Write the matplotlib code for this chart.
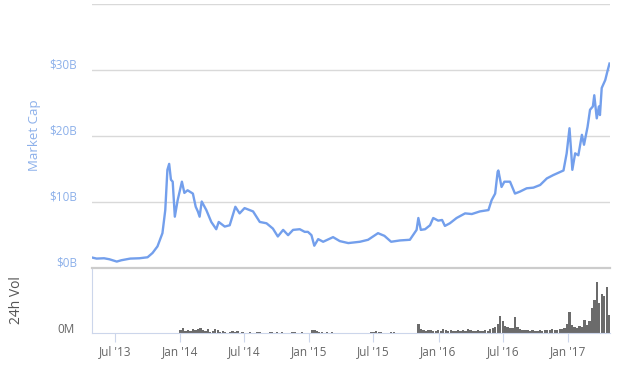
import matplotlib
matplotlib.use("Agg")
import matplotlib.pyplot as plt
import matplotlib.transforms as mtrans
import pandas as pd

# ---------------- data ----------------
mcap_dates = [
    "2013-04-28", "2013-05-10", "2013-05-31", "2013-06-15", "2013-07-06", "2013-07-19",
    "2013-08-13", "2013-09-08", "2013-10-01", "2013-10-15", "2013-10-29", "2013-11-12",
    "2013-11-20", "2013-11-26", "2013-12-01", "2013-12-06", "2013-12-11", "2013-12-17",
    "2013-12-25", "2014-01-06", "2014-01-13", "2014-01-22", "2014-02-06", "2014-02-14",
    "2014-02-20", "2014-02-25", "2014-03-03", "2014-03-16", "2014-03-30", "2014-04-13",
    "2014-04-20", "2014-05-07", "2014-05-21", "2014-06-06", "2014-06-18", "2014-07-02",
    "2014-07-26", "2014-08-14", "2014-09-02", "2014-09-20", "2014-10-04", "2014-10-19",
    "2014-11-02", "2014-11-16", "2014-12-05", "2014-12-19", "2014-12-28", "2015-01-07",
    "2015-01-15", "2015-01-26", "2015-02-09", "2015-03-09", "2015-03-28", "2015-04-21",
    "2015-05-24", "2015-06-16", "2015-07-14", "2015-08-01", "2015-08-20", "2015-09-14",
    "2015-10-12", "2015-10-31", "2015-11-05", "2015-11-12", "2015-11-24", "2015-12-08",
    "2015-12-17", "2015-12-31", "2016-01-11", "2016-01-19", "2016-02-02", "2016-02-21",
    "2016-03-16", "2016-04-04", "2016-04-27", "2016-05-21", "2016-05-30", "2016-06-09",
    "2016-06-16", "2016-06-18", "2016-06-27", "2016-07-05", "2016-07-21", "2016-08-04",
    "2016-08-18", "2016-09-06", "2016-09-25", "2016-10-14", "2016-11-02", "2016-11-20",
    "2016-12-19", "2016-12-28", "2017-01-05", "2017-01-10", "2017-01-13", "2017-01-21",
    "2017-01-30", "2017-02-09", "2017-02-15", "2017-02-25", "2017-03-04", "2017-03-12",
    "2017-03-16", "2017-03-23", "2017-03-29", "2017-04-01", "2017-04-06", "2017-04-16",
    "2017-04-22", "2017-04-28",
]
mcap_billions = [
    1.5, 1.35, 1.4, 1.25, 0.9, 1.1,
    1.35, 1.4, 1.55, 2.2, 3.2, 5.2,
    8.7, 14.8, 15.7, 13.3, 13.0, 7.7,
    10.2, 13.0, 11.3, 11.7, 11.2, 9.2,
    8.5, 7.7, 10.0, 8.7, 6.9, 5.8,
    6.9, 6.2, 6.4, 9.2, 8.2, 9.0,
    8.5, 6.9, 6.7, 5.9, 4.7, 5.7,
    4.9, 5.7, 5.8, 5.4, 5.4, 4.9,
    3.3, 4.3, 3.9, 4.6, 4.0, 3.7,
    3.9, 4.2, 5.2, 4.8, 3.9, 4.1,
    4.2, 5.7, 7.5, 5.7, 5.8, 6.4,
    7.5, 7.1, 7.2, 6.3, 6.7, 7.5,
    8.2, 8.1, 8.5, 8.7, 10.2, 11.2,
    14.5, 14.7, 12.2, 13.0, 13.0, 11.2,
    11.5, 12.0, 12.1, 12.5, 13.5, 14.0,
    14.7, 17.3, 21.1, 17.3, 14.8, 17.3,
    17.0, 20.1, 18.6, 21.3, 23.9, 24.4,
    26.1, 22.6, 24.4, 23.1, 27.2, 28.4,
    29.7, 30.9,
]

# weekly 24h volume (millions), weeks starting 2013-12-30
vol_start = "2013-12-30"
vol_millions = [
    # 2014
    120, 200, 80, 120, 80,
    160, 120, 160, 200,
    120, 80, 160, 40, 80,
    160, 120, 40, 80,
    40, 20, 40, 80,
    40, 80, 20, 40, 20,
    20, 40, 20, 20,
    40, 40, 20, 20,
    20, 40, 40, 20, 60,
    20, 40, 20, 20,
    20, 40, 60, 20,
    20, 40, 20, 20, 20,
    # 2015
    120, 120, 80, 40,
    40, 20, 40, 20,
    40, 0, 20, 0, 0,
    0, 20, 0, 0,
    0, 0, 0, 20,
    0, 0, 20, 40, 40,
    80, 40, 40, 20,
    20, 0, 40, 40, 0,
    0, 0, 0, 0,
    0, 0, 0, 0,
    360, 160, 120, 80, 120,
    120, 80, 80, 120,
    # 2016
    80, 160, 120, 80,
    120, 80, 80, 120, 80,
    120, 80, 160, 120,
    80, 80, 120, 80,
    80, 120, 80, 160, 200,
    240, 360, 680, 480,
    280, 240, 200, 200,
    640, 240, 160, 120, 120,
    120, 80, 120, 80,
    80, 120, 80, 120, 120,
    120, 160, 120, 120,
    160, 160, 200, 360,
    # 2017
    840, 320, 240, 200, 280,
    240, 520, 320, 480,
    1000, 1320, 2040, 1200,
    1560, 1480, 1840, 720,
]

tick_dates = ["2013-07-01", "2014-01-01", "2014-07-01", "2015-01-01",
              "2015-07-01", "2016-01-01", "2016-07-01", "2017-01-01"]
tick_labels = ["Jul '13", "Jan '14", "Jul '14", "Jan '15",
               "Jul '15", "Jan '16", "Jul '16", "Jan '17"]
mcap_ticks = [0, 10, 20, 30, 40]
mcap_tick_labels = ["$0B", "$10B", "$20B", "$30B", ""]

# ---------------- styling ----------------
LINE = "#739fec"
LABEL_BLUE = "#8cb0ea"
GRID = "#d9d9d9"
AXIS = "#ccd6eb"
GRAY_TXT = "#666666"
BAR = "#6b6b6b"

plt.rcParams["font.family"] = ["Open Sans", "DejaVu Sans"]

W, H = 618, 367
PT = 72 / 100  # points per pixel at dpi 100
fig = plt.figure(figsize=(W / 100, H / 100), dpi=100)
ax = fig.add_axes([92 / W, 1 - 267.5 / H, (609.5 - 92) / W, (267.5 - 3.5) / H])
axv = fig.add_axes([92 / W, 1 - 333.3 / H, (609.5 - 92) / W, (333.3 - 267.5) / H], sharex=ax)

md = pd.to_datetime(mcap_dates)
vd = pd.date_range(vol_start, periods=len(vol_millions), freq="7D")

xmin, xmax = pd.Timestamp("2013-04-27"), pd.Timestamp("2017-04-28")

# market cap panel
ax.plot(md, mcap_billions, color=LINE, lw=1.7, solid_joinstyle="round", zorder=3)
ax.set_ylim(0, 40)
ax.set_xlim(xmin, xmax)
ax.set_yticks(mcap_ticks)
ax.set_yticklabels(mcap_tick_labels)
ax.grid(axis="y", color=GRID, lw=1)
ax.set_axisbelow(True)
for s in ax.spines.values():
    s.set_visible(False)
ax.tick_params(axis="y", length=0, labelcolor=LABEL_BLUE, labelsize=8.5, pad=15 * PT)
ax.tick_params(axis="x", bottom=False, labelbottom=False)
off = mtrans.ScaledTranslation(0, 6 / 100, fig.dpi_scale_trans)
for lab in ax.get_yticklabels():
    lab.set_transform(lab.get_transform() + off)
ax.set_ylabel("Market Cap", color=LABEL_BLUE, fontsize=9.5)
ax.yaxis.set_label_coords(-51 / 517.5, 0.5)

# volume panel
axv.bar(vd, vol_millions, width=6.5, align="edge", color=BAR, lw=0)
axv.set_ylim(0, 2600)
axv.set_yticks([0])
axv.set_yticklabels(["0M"])
axv.tick_params(axis="y", length=0, labelcolor=GRAY_TXT, labelsize=8.5, pad=17 * PT)
offv = mtrans.ScaledTranslation(0, 5 / 100, fig.dpi_scale_trans)
for lab in axv.get_yticklabels():
    lab.set_transform(lab.get_transform() + offv)
axv.spines["right"].set_visible(False)
axv.spines["top"].set_color("#cccccc")
axv.spines["top"].set_linewidth(1.6)
axv.spines["left"].set_color(AXIS)
axv.spines["bottom"].set_color(AXIS)
axv.set_xticks(pd.to_datetime(tick_dates))
axv.set_xticklabels(tick_labels)
axv.tick_params(axis="x", length=9 * PT, color=AXIS, labelcolor=GRAY_TXT,
                labelsize=8.5, pad=3 * PT)
axv.set_ylabel("24h Vol", color="#555555", fontsize=10)
axv.yaxis.set_label_coords(-68 / 517.5, 0.5)
axv.set_xlim(xmin, xmax)

fig.savefig("out.png", dpi=100, facecolor="white")
